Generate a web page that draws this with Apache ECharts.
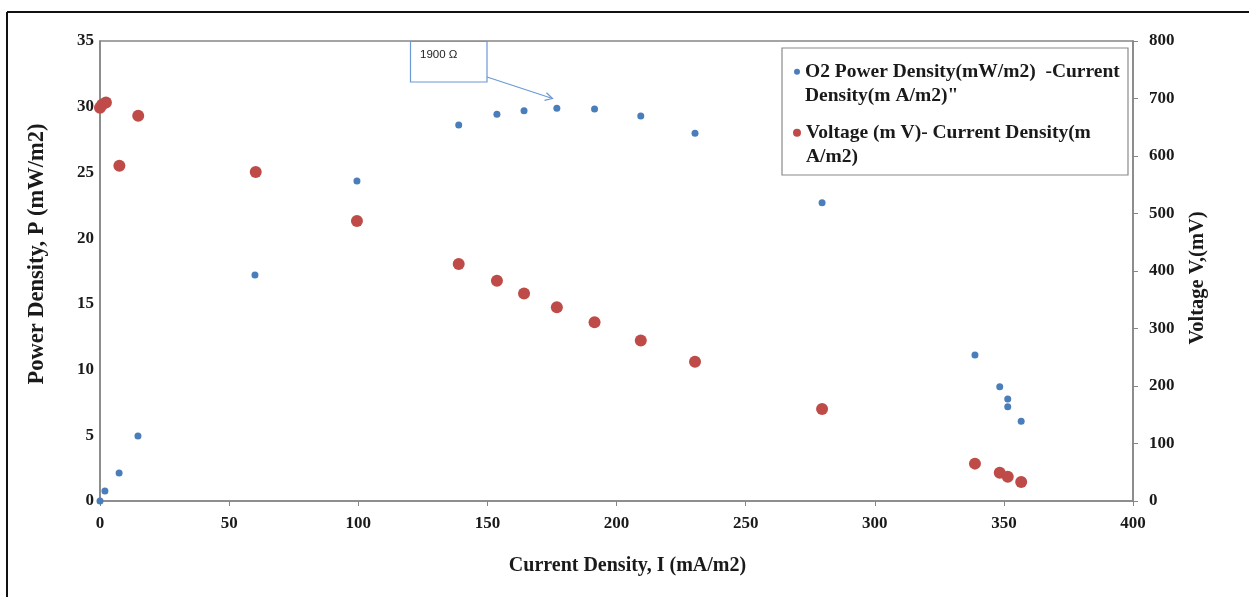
<!DOCTYPE html>
<html>
<head>
<meta charset="utf-8">
<script src="https://cdn.jsdelivr.net/npm/echarts@6/dist/echarts.min.js"></script>
<style>html,body{margin:0;padding:0;background:#fff}#c{width:1249px;height:597px}</style>
</head>
<body>
<div id="c"></div>
<script>
// Current density (mA/m2) for power series
const powerI = [0, 1.9, 7.4, 14.7, 60, 99.5, 138.9, 153.7, 164.2, 176.9, 191.5, 209.4, 230.4, 279.6, 338.8, 348.4, 351.5, 351.5, 356.7];
// Power density (mW/m2)
const powerP = [0, 0.76, 2.13, 4.95, 17.2, 24.35, 28.6, 29.43, 29.7, 29.88, 29.83, 29.3, 27.98, 22.7, 11.1, 8.7, 7.76, 7.18, 6.07];
// Current density (mA/m2) for voltage series
const voltI = [0, 0.8, 2.3, 7.5, 14.8, 60.3, 99.5, 138.9, 153.7, 164.2, 176.9, 191.5, 209.4, 230.4, 279.6, 338.8, 348.4, 351.5, 356.7];
// Voltage (mV)
const voltV = [684, 689, 693, 583, 670, 572, 487, 412, 383, 361, 337, 311, 279, 242, 160, 65, 49, 42, 33];

const xTicks = [0, 50, 100, 150, 200, 250, 300, 350, 400];
const leftTicks = [0, 5, 10, 15, 20, 25, 30, 35];
const rightTicks = [0, 100, 200, 300, 400, 500, 600, 700, 800];

const nameP = 'O2 Power Density(mW/m2)  -Current Density(m A/m2)"';
const nameV = 'Voltage (m V)- Current Density(m A/m2)';
const legendText = {};
legendText[nameP] = '\nO2 Power Density(mW/m2)  -Current\nDensity(m A/m2)"';
legendText[nameV] = '\nVoltage (m V)- Current Density(m\nA/m2)';

const F = 'Liberation Serif, Times New Roman, serif';
const axisGray = '#868686';
const txt = '#1a1a1a';

const chart = echarts.init(document.getElementById('c'));
const legendTextStyle = {
  fontFamily: F, fontWeight: 'bold', fontSize: 19.5, color: txt, lineHeight: 24.5
};
chart.setOption({
  animation: false,
  backgroundColor: '#fff',
  grid: { left: 100, right: 116, top: 41, bottom: 96, containLabel: false,
          show: true, borderColor: axisGray, borderWidth: 1.5 },
  xAxis: {
    type: 'value', min: 0, max: 400, interval: 50,
    name: 'Current Density, I (mA/m2)', nameLocation: 'middle', nameGap: 55,
    nameTextStyle: { fontFamily: F, fontWeight: 'bold', fontSize: 20, color: txt, padding: [0, 0, 0, 22] },
    axisLine: { show: true, lineStyle: { color: axisGray, width: 1.5 } },
    axisTick: { show: true, length: 5, lineStyle: { color: axisGray } },
    splitLine: { show: false },
    axisLabel: { fontFamily: F, fontWeight: 'bold', fontSize: 17, color: txt, margin: 14,
      formatter: v => xTicks.includes(v) ? String(v) : '' }
  },
  yAxis: [{
    type: 'value', min: 0, max: 35, interval: 5, position: 'left',
    name: 'Power Density, P (mW/m2)', nameLocation: 'middle', nameGap: 51,
    nameTextStyle: { fontFamily: F, fontWeight: 'bold', fontSize: 22.5, color: txt, padding: [0, 0, 0, 34] },
    axisLine: { show: true, lineStyle: { color: axisGray, width: 1.5 } },
    axisTick: { show: false },
    splitLine: { show: false },
    axisLabel: { fontFamily: F, fontWeight: 'bold', fontSize: 17, color: txt, margin: 6,
      formatter: v => leftTicks.includes(v) ? String(v) : '' }
  }, {
    type: 'value', min: 0, max: 800, interval: 100, position: 'right',
    name: 'Voltage V,(mV)', nameLocation: 'middle', nameGap: 54,
    nameTextStyle: { fontFamily: F, fontWeight: 'bold', fontSize: 20.5, color: txt, padding: [0, 14, 0, 0] },
    axisLine: { show: true, lineStyle: { color: axisGray, width: 1.5 } },
    axisTick: { show: true, length: 5, lineStyle: { color: axisGray } },
    splitLine: { show: false },
    axisLabel: { fontFamily: F, fontWeight: 'bold', fontSize: 17, color: txt, margin: 16,
      formatter: v => rightTicks.includes(v) ? String(v) : '' }
  }],
  legend: [{
    data: [{ name: nameP, icon: 'circle' }], left: 794, top: 35, padding: 0,
    itemWidth: 6, itemHeight: 6, formatter: n => legendText[n], textStyle: legendTextStyle,
    selectedMode: false
  }, {
    data: [{ name: nameV, icon: 'circle' }], left: 793, top: 96, padding: 0,
    itemWidth: 8, itemHeight: 8, formatter: n => legendText[n], textStyle: legendTextStyle,
    selectedMode: false
  }],
  graphic: [
    { type: 'line', shape: { x1: 7, y1: 12, x2: 1249, y2: 12 }, style: { stroke: '#111', lineWidth: 2 }, z: 0 },
    { type: 'line', shape: { x1: 7, y1: 12, x2: 7, y2: 597 }, style: { stroke: '#111', lineWidth: 2 }, z: 0 },
    { type: 'rect', shape: { x: 782, y: 48, width: 346, height: 127 },
      style: { fill: '#fff', stroke: '#8a8a8a', lineWidth: 1.2 }, z: 1 },
    { type: 'rect', shape: { x: 410.5, y: 41.5, width: 76.5, height: 40.5 },
      style: { fill: '#fff', stroke: '#6a9ad6', lineWidth: 1.2 }, z: 5 },
    { type: 'text', x: 420, y: 55, style: { text: '1900 Ω', fontFamily: 'Liberation Sans, Arial, sans-serif',
      fontSize: 11.5, fill: '#222', verticalAlign: 'middle' }, z: 6 },
    { type: 'line', shape: { x1: 487, y1: 77, x2: 552.5, y2: 98.5 }, style: { stroke: '#6a9ad6', lineWidth: 1.2 }, z: 5 },
    { type: 'polyline', shape: { points: [[546.5, 92.8], [552.5, 98.5], [544.5, 100.3]] },
      style: { stroke: '#6a9ad6', lineWidth: 1.2, fill: null }, z: 5 }
  ],
  series: [{
    name: nameP, type: 'scatter', xAxisIndex: 0, yAxisIndex: 0,
    symbol: 'circle', symbolSize: 7,
    itemStyle: { color: '#4a7ebb', opacity: 1 },
    data: powerI.map((x, i) => [x, powerP[i]])
  }, {
    name: nameV, type: 'scatter', xAxisIndex: 0, yAxisIndex: 1,
    symbol: 'circle', symbolSize: 12,
    itemStyle: { color: '#be4b48', opacity: 1 },
    data: voltI.map((x, i) => [x, voltV[i]])
  }]
});
</script>
</body>
</html>
